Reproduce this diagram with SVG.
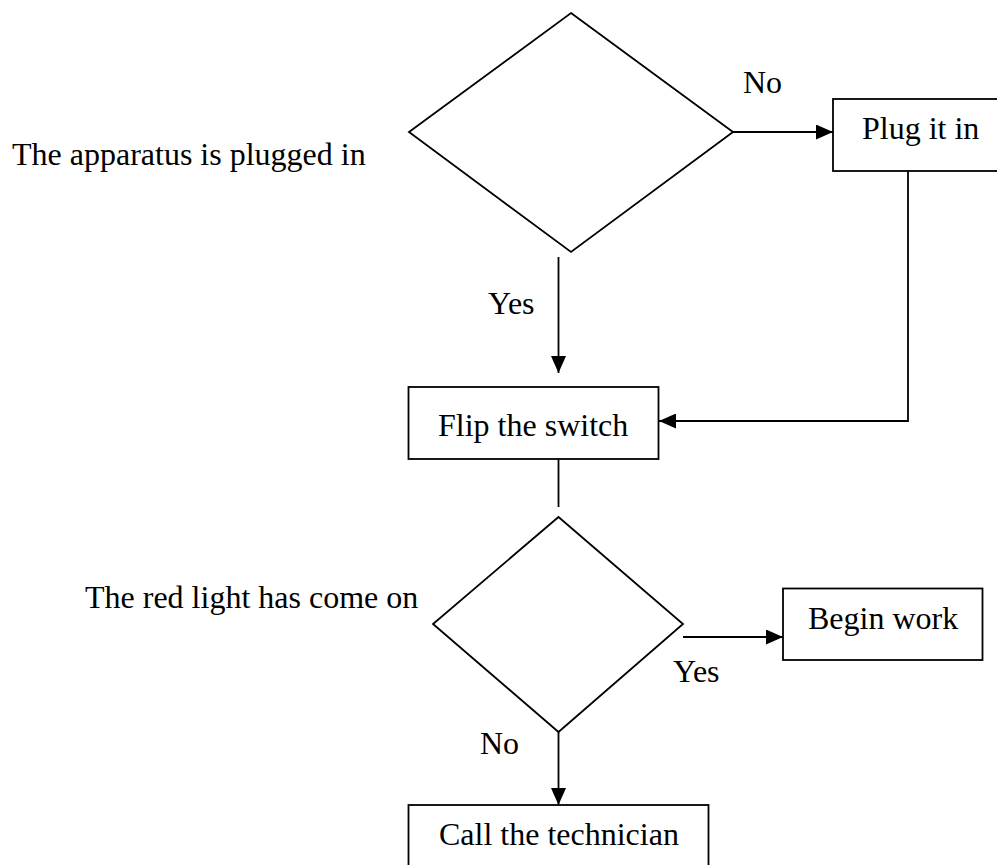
<svg xmlns="http://www.w3.org/2000/svg" width="997" height="865" viewBox="0 0 997 865">
<defs>
<style>
.shape{fill:#fff;stroke:#000;stroke-width:1.8}
.conn{fill:none;stroke:#000;stroke-width:1.8}
.t{font-family:"Liberation Serif","Times New Roman",serif;font-size:32px;fill:#000}
</style>
<marker id="arr" markerUnits="userSpaceOnUse" markerWidth="17" markerHeight="15" refX="17" refY="7.5" orient="auto">
<path d="M0,0 L17,7.5 L0,15 z" fill="#000"/>
</marker>
</defs>
<rect width="997" height="865" fill="#fff"/>
<g id="connectors">
<line class="conn" x1="733" y1="132" x2="833" y2="132" marker-end="url(#arr)"/>
<line class="conn" x1="558.5" y1="257" x2="558.5" y2="373" marker-end="url(#arr)"/>
<polyline class="conn" points="908,171 908,421 659,421" marker-end="url(#arr)"/>
<line class="conn" x1="558.5" y1="459" x2="558.5" y2="507"/>
<line class="conn" x1="683" y1="637" x2="783" y2="637" marker-end="url(#arr)"/>
<line class="conn" x1="558.5" y1="732" x2="558.5" y2="805" marker-end="url(#arr)"/>
</g>
<g id="labels">
<text class="t" x="743" y="93">No</text>
<text class="t" x="488" y="314">Yes</text>
<text class="t" x="673" y="682">Yes</text>
<text class="t" x="480" y="754">No</text>
</g>
<g id="decision1">
<polygon class="shape" points="571,13 733,132 571,252 409,132"/>
<text class="t" x="12" y="165">The apparatus is plugged in</text>
</g>
<g id="plug">
<rect class="shape" x="833" y="99" width="180" height="72"/>
<text class="t" x="862" y="139">Plug it in</text>
</g>
<g id="flip">
<rect class="shape" x="408.5" y="387" width="250" height="72"/>
<text class="t" x="438" y="436">Flip the switch</text>
</g>
<g id="decision2">
<polygon class="shape" points="558.5,517 683,624 558.5,732 433,624"/>
<text class="t" x="85" y="608">The red light has come on</text>
</g>
<g id="begin">
<rect class="shape" x="783" y="588.5" width="199.5" height="71.5"/>
<text class="t" x="808" y="629">Begin work</text>
</g>
<g id="call">
<rect class="shape" x="408.5" y="805" width="300" height="80"/>
<text class="t" x="439" y="845">Call the technician</text>
</g>
</svg>
